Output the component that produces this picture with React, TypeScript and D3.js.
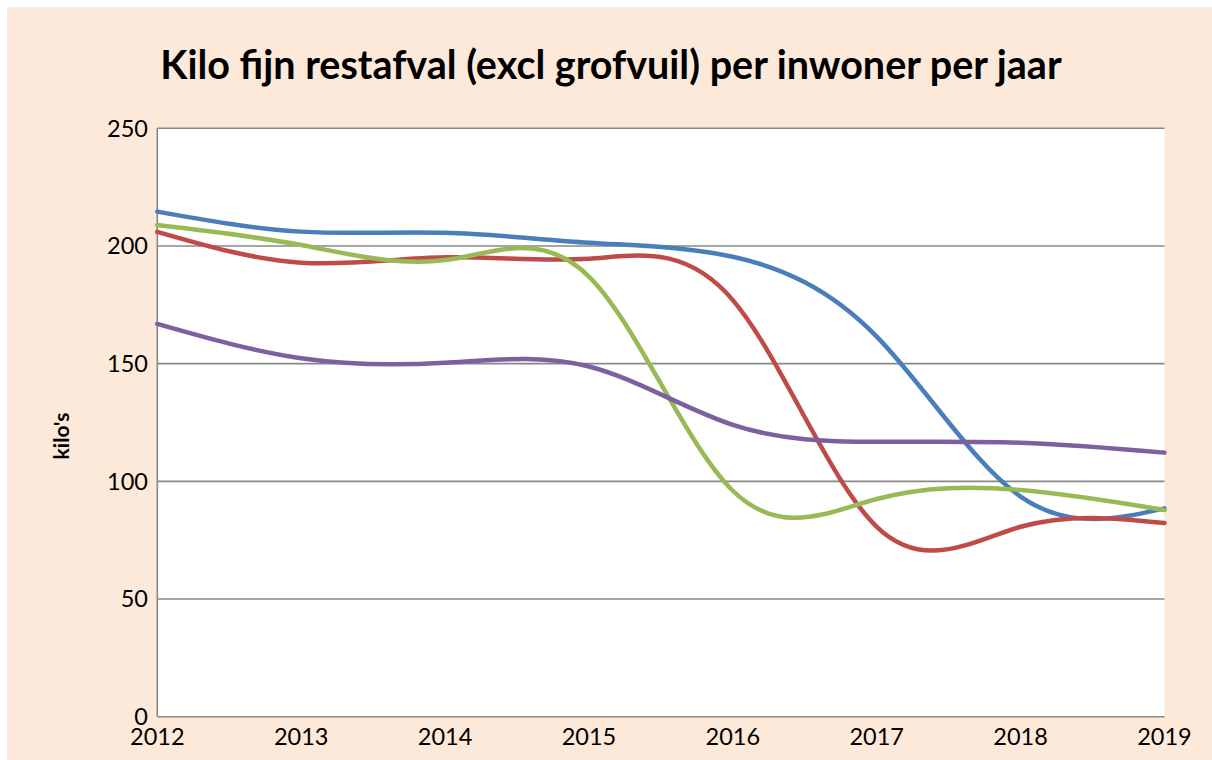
import React from 'react';
import * as d3 from 'd3';

const years = [2012, 2013, 2014, 2015, 2016, 2017, 2018, 2019];
const blueValues = [214.6, 206.1, 205.6, 201.4, 195.4, 161.5, 93.5, 88.5];
const redValues = [206.0, 192.9, 195.2, 194.6, 177.0, 80.7, 80.7, 82.3];
const greenValues = [208.9, 200.4, 194.0, 187.0, 96.0, 92.5, 96.3, 87.8];
const purpleValues = [166.9, 152.3, 150.4, 148.8, 124.0, 116.8, 116.4, 112.2];
const yTicks = [0, 50, 100, 150, 200, 250];

const seriesList = [
  { name: 'blue', values: blueValues, color: '#4A7EBB' },
  { name: 'red', values: redValues, color: '#BE4B48' },
  { name: 'green', values: greenValues, color: '#98B954' },
  { name: 'purple', values: purpleValues, color: '#7D60A0' },
];

const W = 1212;
const H = 760;
const left = 157.3;
const right = 1164.5;
const top = 128.3;
const bottom = 716.7;
const font = 'Lato, "Open Sans", sans-serif';

export default function App() {
  const x = d3.scaleLinear().domain([2012, 2019]).range([left, right]);
  const y = d3.scaleLinear().domain([0, 250]).range([bottom, top]);
  const line = d3
    .line<number>()
    .x((_, i) => x(years[i]))
    .y((d) => y(d))
    .curve(d3.curveNatural);

  return (
    <svg
      width={W}
      height={H}
      style={{ position: 'fixed', left: 0, top: 0, display: 'block' }}
    >
      <rect x={0} y={0} width={W} height={H} fill="#FFFFFF" />
      <rect x={7} y={7} width={W - 7} height={H - 7} fill="#FDE9D9" />
      <text
        x={611}
        y={79}
        textAnchor="middle"
        fontFamily={font}
        fontWeight="bold"
        fontSize={39.5}
        fill="#000"
      >
        Kilo fijn restafval (excl grofvuil) per inwoner per jaar
      </text>
      <rect x={left} y={top} width={right - left} height={bottom - top} fill="#FFFFFF" />
      {yTicks.map((t) => (
        <line
          key={'g' + t}
          x1={left}
          x2={right}
          y1={y(t)}
          y2={y(t)}
          stroke="#888888"
          strokeWidth={1.6}
        />
      ))}
      <line x1={left} x2={left} y1={top} y2={bottom} stroke="#888888" strokeWidth={1.6} />
      {yTicks.map((t) => (
        <text
          key={'yl' + t}
          x={148}
          y={y(t)}
          dy="0.36em"
          textAnchor="end"
          fontFamily={font}
          fontSize={23.5}
          fill="#000"
        >
          {t}
        </text>
      ))}
      {years.map((yr) => (
        <text
          key={'xl' + yr}
          x={x(yr)}
          y={745}
          textAnchor="middle"
          fontFamily={font}
          fontSize={23.5}
          fill="#000"
        >
          {yr}
        </text>
      ))}
      <text
        transform={`translate(69,436) rotate(-90)`}
        textAnchor="middle"
        fontFamily={font}
        fontWeight="bold"
        fontSize={21}
        fill="#000"
      >
        kilo's
      </text>
      {seriesList.map((s) => (
        <path
          key={s.name}
          d={line(s.values) || ''}
          fill="none"
          stroke={s.color}
          strokeWidth={4.5}
          strokeLinecap="round"
          strokeLinejoin="round"
        />
      ))}
    </svg>
  );
}
